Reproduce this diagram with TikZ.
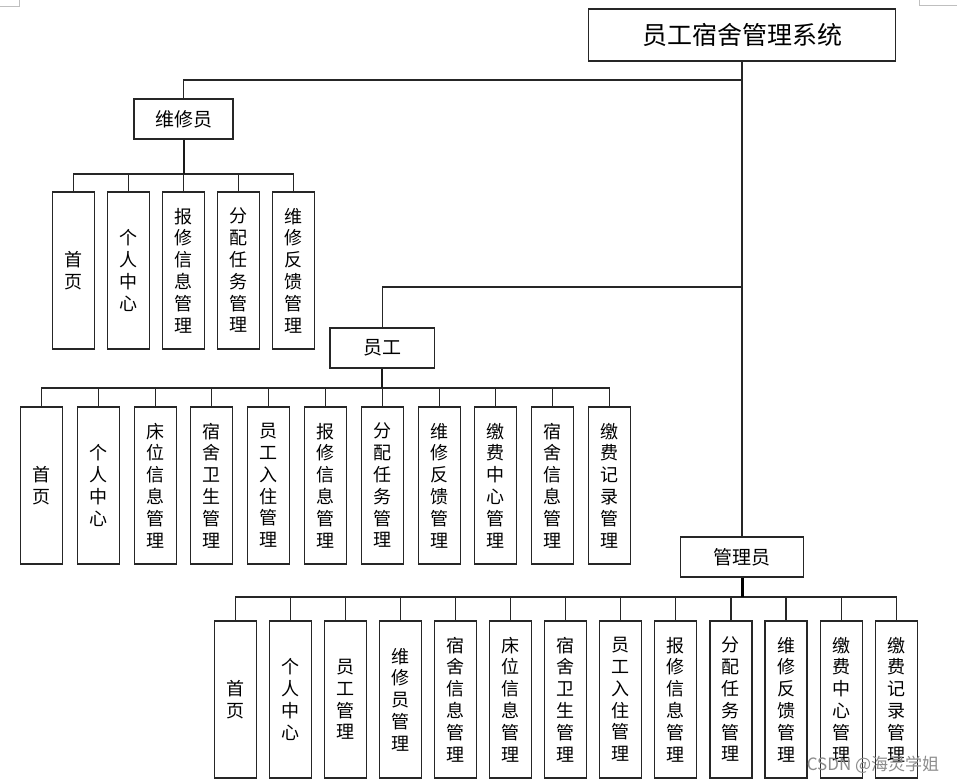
\documentclass[tikz,border=0pt]{standalone}
\usepackage{fontspec}
\setmainfont{Noto Sans CJK SC}
\begin{document}
\begin{tikzpicture}[x=1pt,y=-1pt]
\tikzset{
  box/.style={draw=black!85, line width=1.1pt, inner sep=0pt, fill=white},
  leaf/.style={box, minimum width=42pt, minimum height=157pt, align=center,
    font=\fontsize{18pt}{21.8pt}\selectfont},
  mid/.style={box, minimum height=40pt, font=\fontsize{19pt}{22pt}\selectfont},
  link/.style={line width=1.1pt, draw=black!85},
  stem/.style={line width=2pt, draw=black!90},
}
\useasboundingbox (0,0) rectangle (957,783);
% page corner marks
\draw[black!25, line width=0.8pt] (0,6) -- (19,6) -- (19,0);
\draw[black!25, line width=0.8pt] (957,5) -- (919,5) -- (919,0);

% main nodes
\node[box, minimum width=307pt, minimum height=52pt,
      font=\fontsize{25pt}{28pt}\selectfont] (root) at (742,35) {员工宿舍管理系统};
\node[mid, minimum width=99pt] (wx) at (183.5,119) {维修员};
\node[mid, minimum width=104.5pt] (yg) at (382.2,348) {员工};
\node[mid, minimum width=123pt] (gl) at (742,557) {管理员};

\coordinate (j1) at (742,80);
\coordinate (j2) at (742,287);
\coordinate (wb) at (183.5,174);
\coordinate (eb) at (382.2,388);
\coordinate (mb) at (742,597);

\draw[link] (root.south) -- (gl.north);
\draw[link] (j1) -| (wx.north);
\draw[link] (j2) -| (yg.north);

% 维修员 leaves
\foreach \t [count=\i from 0] in {{首\\页},{个\\人\\中\\心},{报\\修\\信\\息\\管\\理},{分\\配\\任\\务\\管\\理},{维\\修\\反\\馈\\管\\理}}{
  \node[leaf] (w\i) at ({73.5+55*\i},270.5) {\t};
  \draw[link] (wb) -| (w\i.north);
}
\draw[stem] (wx.south) -- (wb);

% 员工 leaves
\foreach \t [count=\i from 0] in {{首\\页},{个\\人\\中\\心},{床\\位\\信\\息\\管\\理},{宿\\舍\\卫\\生\\管\\理},{员\\工\\入\\住\\管\\理},{报\\修\\信\\息\\管\\理},{分\\配\\任\\务\\管\\理},{维\\修\\反\\馈\\管\\理},{缴\\费\\中\\心\\管\\理},{宿\\舍\\信\\息\\管\\理},{缴\\费\\记\\录\\管\\理}}{
  \node[leaf] (e\i) at ({41.6+56.78*\i},485.5) {\t};
  \draw[link] (eb) -| (e\i.north);
}
\draw[stem] (yg.south) -- (eb);

% 管理员 leaves
\foreach \t [count=\i from 0] in {{首\\页},{个\\人\\中\\心},{员\\工\\管\\理},{维\\修\\员\\管\\理},{宿\\舍\\信\\息\\管\\理},{床\\位\\信\\息\\管\\理},{宿\\舍\\卫\\生\\管\\理},{员\\工\\入\\住\\管\\理},{报\\修\\信\\息\\管\\理},{分\\配\\任\\务\\管\\理},{维\\修\\反\\馈\\管\\理},{缴\\费\\中\\心\\管\\理},{缴\\费\\记\\录\\管\\理}}{
  \node[leaf] (m\i) at ({235.5+55.05*\i},699.5) {\t};
  \draw[link] (mb) -| (m\i.north);
}
\draw[line width=3pt, draw=black] (gl.south) -- (mb);

% watermark
\node[text=black!45, font=\fontsize{17pt}{19pt}\selectfont, inner sep=0pt]
  (wm) at (873,765) {CSDN @海灵学姐};
\end{tikzpicture}
\end{document}
